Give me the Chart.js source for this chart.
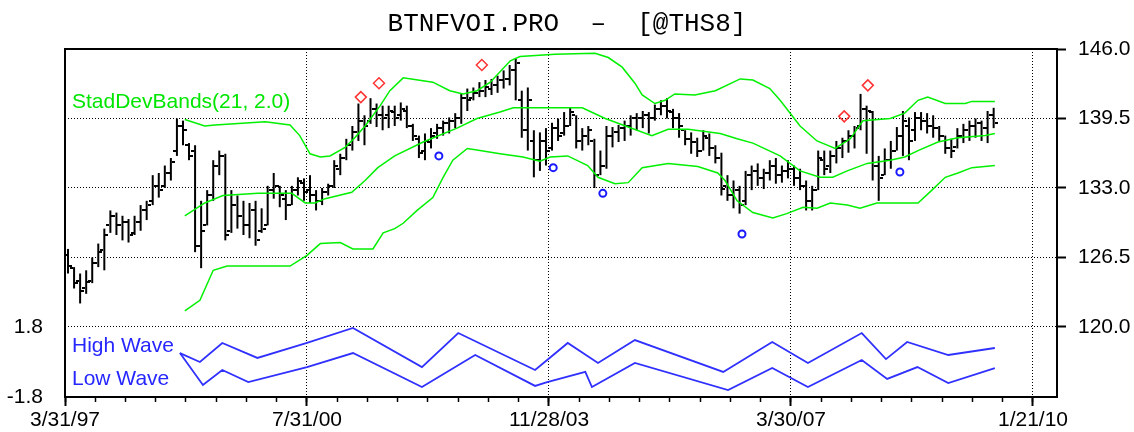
<!DOCTYPE html>
<html>
<head>
<meta charset="utf-8">
<title>BTNFVOI.PRO</title>
<script src="https://cdn.jsdelivr.net/npm/chart.js@4.4.1/dist/chart.umd.min.js"></script>
<style>
  html, body { margin: 0; padding: 0; background: #fff; }
  #wrap { width: 1134px; height: 432px; position: relative; }
</style>
</head>
<body>
<div id="wrap"><canvas id="myChart"></canvas></div>
<script>
// Axis labels (x values are bar numbers)
const dateLabels = ['3/31/97', '7/31/00', '11/28/03', '3/30/07', '1/21/10'];
const datePos = [-0.5, 39.5, 79.5, 119.5, 159.5];
const priceTicks = [120, 126.5, 133, 139.5, 146];
const waveTicks = [-1.8, 1.8];

// Price bars
const opens = [
  126.7, 125.5, 124.3, 123.6, 124.3, 126.0, 127.2, 129.5, 130.4, 129.5,
  129.8, 128.8, 129.8, 130.9, 131.8, 133.2, 133.2, 134.4, 136.5, 138.8,
  137.0, 136.5, 127.6, 129.5, 132.3, 135.1, 136.0, 129.0, 131.4, 130.4,
  129.5, 130.9, 129.0, 129.5, 132.8, 133.2, 132.0, 131.4, 132.8, 133.5,
  132.8, 132.3, 131.8, 132.6, 133.2, 134.8, 135.8, 137.0, 138.2, 139.3,
  139.3, 140.4, 139.8, 139.8, 140.1, 139.8, 140.2, 138.8, 137.6, 136.5,
  137.3, 138.1, 138.6, 139.1, 139.3, 139.5, 141.4, 141.4, 141.9, 142.1,
  142.3, 142.6, 143.1, 143.2, 144.0, 141.2, 138.4, 137.4, 135.6, 137.4,
  136.7, 138.6, 138.1, 138.8, 139.8, 137.4, 137.9, 137.4, 134.2, 135.1,
  137.9, 138.2, 138.6, 138.8, 139.5, 139.5, 139.8, 139.5, 140.4, 140.7,
  140.1, 139.5, 138.4, 137.6, 137.3, 136.5, 137.7, 136.7, 135.8, 133.2,
  132.3, 132.8, 131.8, 134.2, 134.6, 133.9, 134.4, 135.1, 134.2, 134.6,
  134.8, 133.9, 133.2, 131.8, 132.8, 135.6, 135.1, 136.0, 136.7, 137.4,
  137.9, 138.8, 140.4, 140.1, 135.1, 134.2, 135.6, 136.5, 137.9, 138.8,
  138.4, 139.5, 139.3, 138.8, 138.6, 137.9, 136.7, 136.8, 137.9, 138.4,
  138.8, 139.1, 138.6, 139.8
];
const highs = [
  127.3, 125.6, 125.0, 125.3, 126.5, 127.8, 129.2, 130.9, 130.7, 130.4,
  130.1, 130.4, 131.4, 131.8, 134.2, 134.4, 135.1, 135.8, 139.5, 139.3,
  137.2, 137.0, 131.8, 132.8, 135.6, 136.5, 136.2, 132.8, 132.3, 131.8,
  131.6, 131.8, 131.1, 133.2, 134.4, 133.2, 132.8, 133.2, 134.0, 133.9,
  134.2, 132.8, 133.0, 133.4, 135.6, 136.2, 137.6, 138.8, 140.9, 139.8,
  141.4, 140.9, 140.7, 140.7, 140.7, 141.0, 140.7, 139.0, 137.9, 138.1,
  138.6, 139.0, 139.3, 139.6, 140.0, 141.8, 142.3, 142.4, 142.9, 143.1,
  143.2, 143.5, 144.0, 144.5, 145.1, 142.1, 142.4, 138.4, 138.2, 138.6,
  139.1, 139.5, 140.1, 140.5, 139.8, 138.6, 138.8, 137.6, 136.5, 138.8,
  138.7, 138.9, 139.3, 139.8, 140.0, 140.2, 140.1, 140.8, 141.2, 141.4,
  140.4, 140.0, 138.4, 138.2, 137.7, 138.4, 138.1, 137.0, 136.3, 134.2,
  133.7, 133.2, 134.6, 135.1, 135.3, 134.8, 135.6, 135.8, 135.1, 135.6,
  135.1, 134.8, 133.7, 133.2, 136.5, 136.5, 136.5, 137.4, 137.7, 138.4,
  138.8, 141.8, 140.7, 140.2, 136.0, 136.7, 137.4, 138.7, 140.2, 139.6,
  140.1, 140.1, 140.0, 139.8, 138.8, 137.9, 137.6, 138.6, 139.0, 139.3,
  139.5, 139.3, 140.2, 140.5
];
const lows = [
  125.0, 123.6, 122.2, 123.1, 124.1, 125.6, 125.3, 128.8, 128.6, 128.1,
  127.9, 128.6, 129.0, 130.0, 131.4, 132.1, 133.0, 133.7, 136.0, 137.0,
  135.6, 127.0, 125.5, 129.5, 131.8, 134.2, 128.1, 128.8, 129.2, 128.6,
  128.3, 127.6, 128.8, 129.5, 132.0, 131.2, 130.0, 131.4, 132.3, 131.8,
  131.6, 130.9, 131.4, 132.3, 133.0, 134.2, 135.6, 136.5, 137.4, 137.0,
  139.0, 138.7, 138.4, 138.6, 138.8, 139.3, 138.6, 137.4, 135.8, 135.6,
  136.7, 137.6, 137.9, 138.1, 138.6, 139.0, 140.2, 141.2, 141.5, 141.5,
  141.7, 141.9, 142.3, 142.6, 141.2, 137.7, 136.5, 134.0, 134.6, 135.1,
  136.5, 137.4, 137.9, 138.8, 136.7, 136.5, 137.0, 133.0, 134.2, 134.8,
  136.8, 137.3, 137.4, 137.9, 138.4, 138.6, 138.1, 139.3, 139.8, 139.5,
  138.6, 137.7, 137.0, 136.2, 135.9, 136.5, 136.0, 135.3, 132.3, 131.8,
  131.1, 130.6, 131.4, 132.8, 133.2, 132.9, 133.7, 133.4, 133.5, 133.9,
  133.2, 132.8, 130.9, 130.9, 132.8, 134.2, 134.4, 135.3, 135.8, 136.3,
  136.7, 138.4, 136.2, 133.7, 131.8, 134.2, 134.8, 136.5, 136.0, 135.6,
  137.4, 138.4, 138.1, 137.7, 137.4, 136.2, 135.8, 136.7, 137.2, 137.4,
  137.7, 137.4, 137.2, 138.6
];
const closes = [
  125.7, 124.1, 123.4, 124.2, 126.0, 127.0, 128.6, 130.4, 129.5, 129.8,
  128.6, 129.8, 130.9, 131.4, 133.2, 132.8, 134.4, 135.4, 138.8, 138.4,
  136.0, 127.6, 129.0, 132.3, 135.1, 136.0, 128.6, 131.4, 130.4, 129.5,
  130.9, 128.1, 129.2, 132.8, 133.2, 132.3, 131.4, 132.8, 133.7, 132.6,
  132.3, 131.8, 132.6, 133.2, 135.1, 135.8, 137.0, 138.2, 139.3, 138.8,
  140.4, 139.8, 139.5, 140.2, 139.5, 140.4, 138.8, 137.9, 136.3, 137.4,
  137.9, 138.6, 139.1, 139.3, 139.5, 141.4, 141.2, 141.9, 142.1, 142.4,
  142.6, 143.1, 143.2, 144.0, 144.7, 138.4, 141.2, 135.6, 137.4, 136.5,
  138.6, 137.9, 138.8, 140.1, 137.4, 137.9, 138.4, 134.2, 135.1, 137.9,
  138.2, 138.6, 138.8, 139.5, 139.5, 139.8, 139.5, 140.4, 140.7, 140.2,
  139.5, 138.8, 137.6, 137.3, 136.5, 137.9, 136.7, 135.8, 132.9, 132.3,
  132.8, 131.4, 134.2, 134.6, 133.9, 134.4, 135.1, 134.2, 134.6, 134.8,
  133.9, 133.2, 131.8, 132.8, 135.8, 134.8, 136.0, 136.7, 137.4, 137.9,
  138.6, 140.4, 140.2, 135.1, 133.9, 135.6, 136.5, 137.9, 139.3, 137.4,
  139.5, 139.3, 138.8, 138.6, 137.9, 136.7, 136.5, 137.9, 138.4, 138.8,
  139.1, 138.6, 139.8, 139.1
];

// StadDevBands(21, 2.0) as [bar, price]
const bandUpper = [
  [19.3, 139.4], [22.6, 138.8], [24.3, 138.9], [32.6, 139.2], [36.7, 138.9],
  [38.3, 137.9], [40.0, 136.2], [41.7, 135.9], [43.3, 136.0], [45.8, 136.8],
  [47.4, 137.7], [49.1, 138.8], [51.6, 140.7], [53.2, 142.1], [55.4, 143.3],
  [60.3, 142.9], [63.1, 142.1], [65.3, 141.8], [67.6, 142.1], [69.8, 142.9],
  [73.1, 144.9], [74.7, 145.3], [80.5, 145.5], [87.1, 145.6], [89.3, 145.2],
  [91.6, 144.3], [93.7, 142.8], [94.9, 141.7], [97.0, 140.9], [98.7, 141.2],
  [100.3, 141.8], [103.6, 141.7], [107.0, 142.1], [111.1, 143.2], [113.2, 143.1],
  [116.0, 142.3], [117.7, 141.2], [121.0, 138.8], [123.8, 137.4], [126.8, 136.7],
  [129.3, 137.6], [131.4, 139.3], [135.9, 139.5], [138.3, 140.0], [140.5, 141.2],
  [142.1, 141.5], [145.0, 140.9], [148.3, 140.9], [149.4, 141.1], [153.2, 141.1]
];
const bandMiddle = [
  [19.3, 130.4], [22.6, 131.6], [25.6, 132.3], [31.4, 132.5], [37.0, 132.5],
  [39.2, 131.6], [40.8, 131.6], [42.5, 132.0], [46.9, 132.6], [49.1, 133.7],
  [51.2, 134.9], [54.0, 136.0], [58.7, 137.3], [64.3, 138.6], [67.6, 139.5],
  [71.4, 140.1], [73.6, 140.5], [85.0, 140.5], [88.8, 139.5], [92.6, 138.7],
  [96.5, 137.9], [99.2, 138.5], [102.5, 138.5], [107.8, 138.1], [110.6, 137.6],
  [113.2, 137.2], [117.7, 136.0], [121.0, 134.6], [124.3, 134.0], [126.4, 134.0],
  [128.8, 134.6], [132.1, 135.3], [135.9, 135.6], [138.3, 135.9], [140.5, 136.5],
  [143.8, 137.3], [147.1, 137.7], [151.6, 137.9], [153.2, 138.1]
];
const bandLower = [
  [19.3, 121.5], [21.8, 122.5], [24.0, 125.3], [26.3, 125.7], [36.7, 125.7],
  [39.5, 126.7], [41.7, 127.8], [45.0, 127.9], [47.1, 127.3], [50.4, 127.3],
  [52.1, 128.8], [54.0, 129.2], [55.4, 129.7], [57.7, 130.9], [60.3, 132.1],
  [62.0, 134.0], [63.6, 135.6], [66.0, 136.7], [68.1, 136.5], [71.4, 136.2],
  [75.2, 135.9], [78.0, 135.5], [79.7, 135.9], [82.6, 136.0], [85.9, 135.1],
  [87.6, 134.0], [90.4, 133.4], [92.6, 133.5], [94.9, 134.9], [99.2, 135.3],
  [104.1, 135.0], [107.4, 134.4], [108.6, 133.7], [110.6, 131.8], [113.2, 130.7],
  [116.5, 130.2], [118.8, 130.6], [121.5, 131.2], [123.8, 131.1], [126.0, 131.6],
  [128.8, 131.4], [130.9, 131.1], [133.7, 131.6], [140.5, 131.6], [142.8, 132.8],
  [145.0, 134.0], [147.1, 134.4], [149.4, 134.9], [153.2, 135.1]
];

// Lower pane waves as [bar, value]
const highWave = [
  [18.5, 0.46], [21.8, 0.00], [25.5, 0.98], [31.3, 0.21], [39.5, 0.98],
  [47.1, 1.75], [58.5, -0.26], [64.5, 1.49], [77.2, -0.41], [79.2, 0.10],
  [82.6, 0.98], [87.6, -0.05], [93.7, 1.13], [108.3, -0.51], [116.4, 1.03],
  [122.3, -0.05], [131.2, 1.49], [135.2, 0.15], [138.7, 1.03], [145.5, 0.36],
  [153.2, 0.72]
];
const lowWave = [
  [18.5, 0.46], [22.3, -1.18], [25.5, -0.41],
  [29.8, -1.03], [39.5, -0.26], [47.1, 0.46], [58.5, -1.29], [67.3, 0.36],
  [77.2, -1.23], [79.2, -1.03], [85.5, -0.51], [86.6, -1.29], [93.7, -0.05],
  [109.1, -1.44], [116.4, -0.31], [122.3, -1.29], [131.2, 0.10], [135.4, -0.87],
  [140.4, -0.26], [145.5, -1.08], [153.2, -0.31]
];

// Markers
const peakBars = [48.4, 51.4, 68.4, 128.3, 132.2];
const peakPrices = [141.5, 142.8, 144.5, 139.7, 142.6];
const troughBars = [61.3, 80.2, 88.4, 111.4, 137.5];
const troughPrices = [136.0, 134.9, 132.5, 128.7, 134.5];

const FONT = '"Liberation Sans", Arial, sans-serif';
const toXY = (pairs) => pairs.map((p) => ({ x: p[0], y: p[1] }));

// little open / close tick drawn as a point image
const tickImage = (side) => {
  const c = document.createElement('canvas');
  c.width = 8;
  c.height = 2;
  const g = c.getContext('2d');
  g.fillStyle = '#000';
  g.fillRect(side === 'open' ? 0 : 5, 0, 3, 2);
  return c;
};

// frame top + text labels inside the panes
const decor = {
  id: 'decor',
  beforeDraw(chart) {
    chart.ctx.imageSmoothingEnabled = false;
  },
  afterDatasetsDraw(chart) {
    const { ctx, chartArea } = chart;
    const x = chartArea.left + 7;
    ctx.save();
    ctx.font = '21px ' + FONT;
    ctx.textBaseline = 'alphabetic';

    ctx.fillStyle = '#00e600';
    ctx.fillText('StadDevBands(21, 2.0)', x, chartArea.top + 59);
    ctx.fillStyle = '#2626ff';
    ctx.fillText('High Wave', x, chartArea.top + 303);
    ctx.fillText('Low Wave', x, chartArea.top + 336);

    ctx.strokeStyle = '#000';
    ctx.lineWidth = 2;
    ctx.beginPath();
    ctx.moveTo(chartArea.left, chartArea.top);
    ctx.lineTo(chartArea.right, chartArea.top);
    ctx.stroke();
    ctx.restore();
  }
};

function chartIt() {
  const ctx = document.getElementById('myChart');
  const xMin = -0.5;
  const xMax = 163.47;
  const minorPos = [];
  for (let v = xMin; v <= xMax; v += 5) minorPos.push(v);

  const lineSet = (data, color, width, axis) => ({
    type: 'line',
    data: toXY(data),
    borderColor: color,
    borderWidth: width,
    pointRadius: 0,
    tension: 0,
    yAxisID: axis,
    order: 1
  });

  new Chart(ctx, {
    type: 'line',
    data: {
      datasets: [
        {
          type: 'line',
          showLine: false,
          data: peakBars.map((b, i) => ({ x: b, y: peakPrices[i] })),
          pointStyle: 'rectRot',
          pointRadius: 5.5,
          pointBorderColor: '#ff3333',
          pointBorderWidth: 1.5,
          pointBackgroundColor: 'rgba(0,0,0,0)',
          order: 0
        },
        {
          type: 'line',
          showLine: false,
          data: troughBars.map((b, i) => ({ x: b, y: troughPrices[i] })),
          pointStyle: 'circle',
          pointRadius: 3.5,
          pointBorderColor: '#1a1aff',
          pointBorderWidth: 2,
          pointBackgroundColor: 'rgba(0,0,0,0)',
          order: 0
        },
        lineSet(bandUpper, '#00f000', 1.5, 'y'),
        lineSet(bandMiddle, '#00f000', 1.5, 'y'),
        lineSet(bandLower, '#00f000', 1.5, 'y'),
        lineSet(highWave, '#3030ff', 1.8, 'y2'),
        lineSet(lowWave, '#3030ff', 1.8, 'y2'),
        {
          type: 'line',
          showLine: false,
          data: opens.map((v, i) => ({ x: i, y: v })),
          pointStyle: tickImage('open'),
          pointRadius: 1,
          order: 2
        },
        {
          type: 'line',
          showLine: false,
          data: closes.map((v, i) => ({ x: i, y: v })),
          pointStyle: tickImage('close'),
          pointRadius: 1,
          order: 2
        },
        {
          type: 'bar',
          data: highs.map((h, i) => ({ x: i, y: [lows[i], h] })),
          backgroundColor: '#000',
          borderWidth: 0,
          barThickness: 2,
          inflateAmount: 0,
          order: 3
        }
      ]
    },
    options: {
      responsive: true,
      maintainAspectRatio: false,
      animation: false,
      events: [],
      plugins: {
        legend: { display: false },
        tooltip: { enabled: false },
        title: {
          display: true,
          text: 'BTNFVOI.PRO  \u2013  [@THS8]',
          color: '#000',
          font: { family: '"Liberation Mono", "Courier New", monospace', size: 26, weight: 'normal', lineHeight: 1 },
          padding: { top: 11, bottom: 12 }
        }
      },
      scales: {
        x: {
          type: 'linear',
          min: xMin,
          max: xMax,
          offset: false,
          weight: 1,
          afterBuildTicks: (s) => { s.ticks = datePos.map((v) => ({ value: v })); },
          afterFit: (s) => { s.height = 35; },
          ticks: {
            callback: (v, i) => dateLabels[i],
            color: '#000',
            font: { family: FONT, size: 21 },
            padding: 2,
            maxRotation: 0,
            autoSkip: false
          },
          grid: { offset: false, color: '#000', lineWidth: 1, tickLength: 9, tickWidth: 2, tickColor: '#000' },
          border: { color: '#000', width: 2, dash: [1, 2] }
        },
        xMinor: {
          type: 'linear',
          axis: 'x',
          position: 'bottom',
          min: xMin,
          max: xMax,
          offset: false,
          weight: 0,
          afterBuildTicks: (s) => { s.ticks = minorPos.map((v) => ({ value: v })); },
          afterFit: (s) => { s.height = 0; },
          ticks: { display: false, autoSkip: false },
          grid: { offset: false, drawOnChartArea: false, tickLength: 5, tickWidth: 1.5, tickColor: '#000' },
          border: { display: false }
        },
        y: {
          type: 'linear',
          position: 'right',
          min: 113.45,
          max: 146,
          afterBuildTicks: (s) => { s.ticks = priceTicks.map((v) => ({ value: v })); },
          afterFit: (s) => { s.width = 77; },
          ticks: {
            callback: (v) => v.toFixed(1),
            color: '#000',
            font: { family: FONT, size: 21 },
            padding: 12
          },
          grid: { color: '#000', lineWidth: 1, tickLength: 9, tickWidth: 2, tickColor: '#000' },
          border: { color: '#000', width: 2, dash: [1, 2] }
        },
        y2: {
          type: 'linear',
          position: 'left',
          min: -1.8,
          max: 16.1,
          afterBuildTicks: (s) => { s.ticks = waveTicks.map((v) => ({ value: v })); },
          afterFit: (s) => { s.width = 65; },
          ticks: {
            callback: (v) => v.toFixed(1),
            color: '#000',
            font: { family: FONT, size: 21 },
            padding: 22
          },
          grid: { drawOnChartArea: false, drawTicks: false },
          border: { color: '#000', width: 2 }
        }
      }
    },
    plugins: [decor]
  });
}

chartIt();
</script>
</body>
</html>
